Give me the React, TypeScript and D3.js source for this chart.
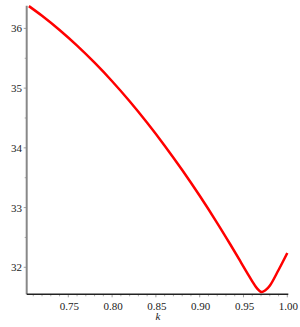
import React from "react";
import * as d3 from "d3";

const kValues = [0.705, 0.72, 0.74, 0.76, 0.78, 0.8, 0.82, 0.84, 0.86, 0.88, 0.9, 0.92, 0.935, 0.946, 0.955, 0.96, 0.965, 0.9705, 0.975, 0.98, 0.99, 1.0];
const fValues = [36.373, 36.211, 35.973, 35.711, 35.425, 35.115, 34.78, 34.42, 34.037, 33.629, 33.197, 32.741, 32.382, 32.11, 31.885, 31.765, 31.655, 31.585, 31.615, 31.69, 31.955, 32.24];
const xTicks = [0.75, 0.8, 0.85, 0.9, 0.95, 1.0];
const xMinor = [0.71, 0.72, 0.73, 0.74, 0.76, 0.77, 0.78, 0.79, 0.81, 0.82, 0.83, 0.84, 0.86, 0.87, 0.88, 0.89, 0.91, 0.92, 0.93, 0.94, 0.96, 0.97, 0.98, 0.99];
const yTicks = [32, 33, 34, 35, 36];
const yMinor = [32.5, 33.5, 34.5, 35.5];
const xLabel = "k";

export default function App() {
  const W = 300, H = 327;
  const x = d3.scaleLinear().domain([0.7025, 1.0]).range([26.7, 287.3]);
  const y = d3.scaleLinear().domain([31.548, 36.38]).range([294.3, 5.7]);
  const pts: [number, number][] = kValues.map((k, i) => [k, fValues[i]]);
  const line = d3
    .line<[number, number]>()
    .x((d) => x(d[0]))
    .y((d) => y(d[1]))
    .curve(d3.curveCatmullRom.alpha(0.5));
  const font = "Liberation Serif, Times New Roman, serif";
  return (
    <svg width={W} height={H} style={{ position: "absolute", left: 0, top: 0, background: "#fff" }}>
      {xMinor.map((t) => (
        <line key={"xm" + t} x1={x(t)} x2={x(t)} y1={y.range()[0]} y2={y.range()[0] + 2} stroke="#999" strokeWidth={0.8} />
      ))}
      {xTicks.map((t) => (
        <g key={"x" + t}>
          <line x1={x(t)} x2={x(t)} y1={y.range()[0]} y2={y.range()[0] + 3} stroke="#888" strokeWidth={0.8} />
          <text x={x(t) + 1} y={309.5} textAnchor="middle" fontFamily={font} fontSize={11} fill="#222">
            {t.toFixed(2)}
          </text>
        </g>
      ))}
      {yMinor.map((t) => (
        <line key={"ym" + t} x1={x.range()[0] - 2} x2={x.range()[0]} y1={y(t)} y2={y(t)} stroke="#999" strokeWidth={0.8} />
      ))}
      {yTicks.map((t) => (
        <g key={"y" + t}>
          <line x1={x.range()[0] - 3} x2={x.range()[0]} y1={y(t)} y2={y(t)} stroke="#888" strokeWidth={0.8} />
          <text x={22} y={y(t) + 4} textAnchor="end" fontFamily={font} fontSize={11} fill="#222">
            {t}
          </text>
        </g>
      ))}
      <line x1={x.range()[0]} x2={x.range()[0]} y1={y.range()[1]} y2={y.range()[0]} stroke="#888" strokeWidth={2} />
      <line x1={x.range()[0]} x2={x.range()[1] + 1} y1={y.range()[0]} y2={y.range()[0]} stroke="#222" strokeWidth={1.5} />
      <path d={line(pts) || ""} fill="none" stroke="#ff0000" strokeWidth={2.5} strokeLinejoin="round" />
      <text x={158} y={320} textAnchor="middle" fontFamily={font} fontStyle="italic" fontSize={11} fill="#222">
        {xLabel}
      </text>
    </svg>
  );
}
